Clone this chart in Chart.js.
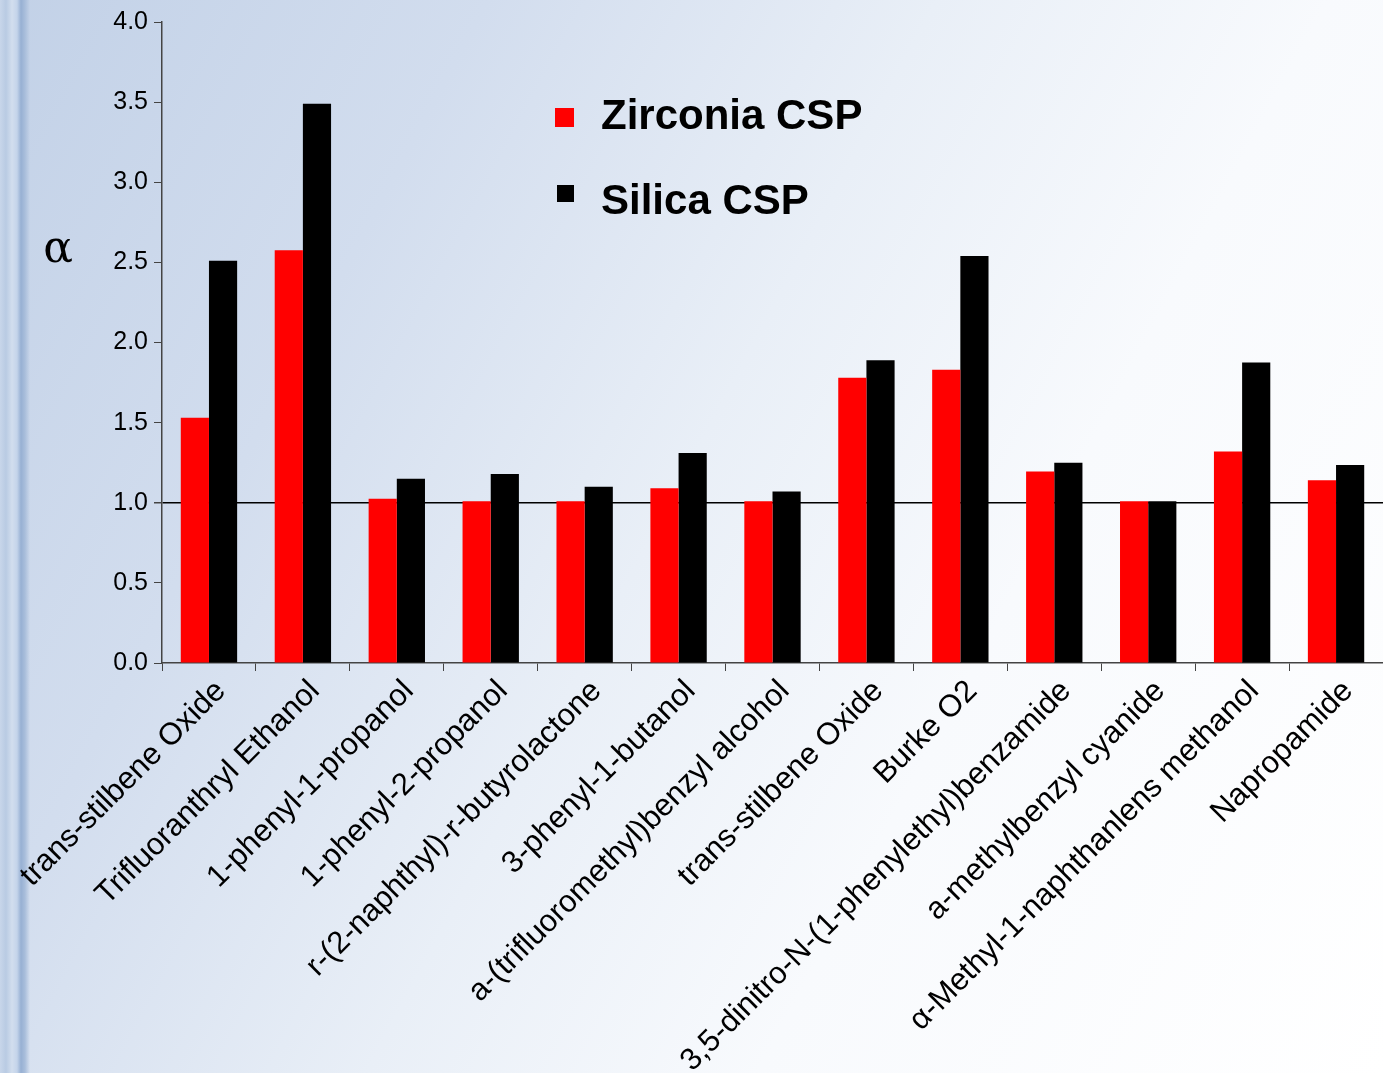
<!DOCTYPE html>
<html>
<head>
<meta charset="utf-8">
<script src="https://cdn.jsdelivr.net/npm/chart.js@4"></script>
<style>
  html, body { margin: 0; padding: 0; }
  body {
    width: 1383px; height: 1073px; overflow: hidden; position: relative;
    background: linear-gradient(118deg, #c2d1e7 0%, #d2ddee 25%, #e9eff7 48%, #f8fafd 68%, #ffffff 100%);
  }
  #stripe {
    position: absolute; left: 0; top: 0; width: 30px; height: 1073px;
    background: linear-gradient(to right, #c8d6ea 0px, #b9cbe3 6px, #d2deee 12px, #c4d4ea 17px, #97b0d3 21px, #a9bedb 25px, rgba(200,214,234,0) 30px);
  }
  #wrap { position: absolute; left: 0; top: 0; width: 1383px; height: 1073px; }
</style>
</head>
<body>
<div id="stripe"></div>
<div id="wrap"><canvas id="chart"></canvas></div>
<script>
// Dữ liệu
const categories = [
  'trans-stilbene Oxide',
  'Trifluoranthryl Ethanol',
  '1-phenyl-1-propanol',
  '1-phenyl-2-propanol',
  'r-(2-naphthyl)-r-butyrolactone',
  '3-phenyl-1-butanol',
  'a-(trifluoromethyl)benzyl alcohol',
  'trans-stilbene Oxide',
  'Burke O2',
  '3,5-dinitro-N-(1-phenylethyl)benzamide',
  'a-methylbenzyl cyanide',
  'α-Methyl-1-naphthanlens methanol',
  'Napropamide'
];
const zirconia = [1.53, 2.575, 1.025, 1.01, 1.01, 1.09, 1.01, 1.78, 1.83, 1.195, 1.01, 1.32, 1.14];
const silica = [2.51, 3.49, 1.15, 1.18, 1.10, 1.31, 1.07, 1.89, 2.54, 1.25, 1.01, 1.875, 1.235];
const yTicks = [0, 0.5, 1.0, 1.5, 2.0, 2.5, 3.0, 3.5, 4.0];

// Chú thích và ký hiệu α vẽ tay
const extraText = {
  id: 'extraText',
  afterDraw(chart) {
    const ctx = chart.ctx;
    ctx.save();
    const items = [
      { ds: 0, x: 555, y: 108, size: 19, tx: 601, ty: 129 },
      { ds: 1, x: 557, y: 185, size: 17, tx: 601, ty: 214 }
    ];
    items.forEach(it => {
      const d = chart.data.datasets[it.ds];
      ctx.fillStyle = d.backgroundColor;
      ctx.fillRect(it.x, it.y, it.size, it.size);
      ctx.fillStyle = '#000';
      ctx.font = 'bold 42px "Liberation Sans", Arial, sans-serif';
      ctx.textBaseline = 'alphabetic';
      ctx.textAlign = 'left';
      ctx.fillText(d.label, it.tx, it.ty);
    });
    ctx.font = '44px "DejaVu Serif", serif';
    ctx.textAlign = 'center';
    ctx.fillText('α', 58, 262);
    ctx.restore();
  }
};

const config = {
  type: 'bar',
  data: {
    labels: categories,
    datasets: [
      { label: 'Zirconia CSP', data: zirconia, backgroundColor: '#ff0000' },
      { label: 'Silica CSP', data: silica, backgroundColor: '#000000' }
    ]
  },
  options: {
    responsive: false,
    animation: false,
    layout: { padding: { top: 22, left: 0, right: 0, bottom: 0 } },
    datasets: { bar: { categoryPercentage: 0.6, barPercentage: 1.0 } },
    plugins: { legend: { display: false }, tooltip: { enabled: false } },
    scales: {
      x: {
        offset: true,
        grid: { offset: true, drawOnChartArea: false, drawTicks: true, tickLength: 8, color: '#444', tickColor: '#444' },
        border: { color: '#444', width: 1.5 },
        ticks: {
          color: '#000',
          autoSkip: false,
          minRotation: 45,
          maxRotation: 45,
          padding: 2,
          labelOffset: 12,
          font: { family: '"Liberation Sans", Arial, sans-serif', size: 31 }
        },
        afterFit(scale) { scale.height = 1073 - 663; }
      },
      y: {
        min: 0,
        max: 4,
        afterBuildTicks(scale) { scale.ticks = yTicks.map(v => ({ value: v })); },
        grid: {
          color: ctx => (ctx.tick && ctx.tick.value === 1 ? '#000' : 'rgba(0,0,0,0)'),
          lineWidth: ctx => (ctx.tick && ctx.tick.value === 1 ? 1.5 : 1),
          tickColor: '#444',
          tickLength: 8,
          drawTicks: true
        },
        border: { color: '#444', width: 1.5 },
        ticks: {
          color: '#000',
          padding: 6,
          font: { family: '"Liberation Sans", Arial, sans-serif', size: 25 },
          callback: v => v.toFixed(1)
        },
        afterFit(scale) { scale.width = 162; }
      }
    }
  },
  plugins: [extraText]
};

const canvas = document.getElementById('chart');
canvas.width = 1383;
canvas.height = 1073;
new Chart(canvas, config);
</script>
</body>
</html>
